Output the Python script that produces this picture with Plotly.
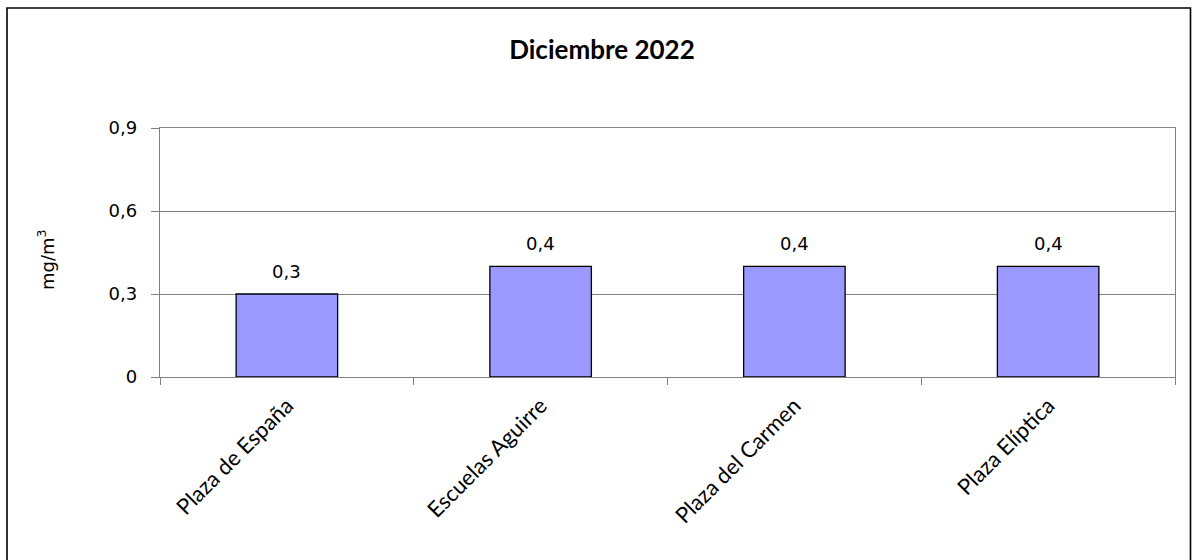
import plotly.graph_objects as go

categories = ["Plaza de España", "Escuelas Aguirre", "Plaza del Carmen", "Plaza Elíptica"]
values = [0.3, 0.4, 0.4, 0.4]
y_ticks = [0, 0.3, 0.6, 0.9]
y_tick_labels = ["0", "0,3", "0,6", "0,9"]

L, R, T, B = 160, 17, 128, 183
W, H = 1192, 560
pw, ph = W - L - R, H - T - B

fig = go.Figure()
fig.add_trace(go.Bar(
    x=categories, y=values, width=0.4,
    marker=dict(color="#9999FF", line=dict(color="#000000", width=1.3)),
    hoverinfo="skip",
))
for c, v in zip(categories, values):
    fig.add_annotation(x=c, y=v, text=f"{v:.1f}".replace(".", ","), showarrow=False,
                       yanchor="bottom", yshift=10,
                       font=dict(family="DejaVu Sans", size=18, color="#000000"))

# y-axis title placed as a rotated annotation
fig.add_annotation(text="mg/m<sup>3</sup>", xref="paper", yref="paper",
                   x=(46 - L) / pw, y=(H - B - 260) / ph, textangle=-90,
                   showarrow=False, xanchor="center", yanchor="middle",
                   font=dict(family="DejaVu Sans", size=18, color="#000000"))

fig.update_layout(
    width=W, height=H,
    margin=dict(l=L, r=R, t=T, b=B),
    paper_bgcolor="white", plot_bgcolor="white",
    showlegend=False,
    title=dict(text="<b>Diciembre 2022</b>", x=602 / W, xref="container", xanchor="center",
               y=1 - 50 / H, yanchor="middle",
               font=dict(family="Lato", size=26, color="#000000")),
    shapes=[dict(type="rect", xref="paper", yref="paper",
                 x0=(7 - L) / pw, x1=(1190.5 - L) / pw,
                 y0=-1.0, y1=(H - B - 8) / ph,
                 line=dict(color="#000000", width=1.6), fillcolor="rgba(0,0,0,0)", layer="below")],
)
fig.update_xaxes(
    type="category", tickson="boundaries", ticks="outside", ticklen=7,
    tickcolor="#808080", showline=True, linecolor="#808080", linewidth=1.3, mirror=True,
    tickangle=-45, tickfont=dict(family="Lato", size=22, color="#000000"),
    ticklabelstandoff=6, showgrid=False,
)
fig.update_yaxes(
    range=[0, 0.9], tickvals=y_ticks, ticktext=y_tick_labels,
    ticks="outside", ticklen=8, tickcolor="#808080", ticklabelstandoff=10,
    showline=True, linecolor="#808080", linewidth=1.3, mirror=True,
    showgrid=True, gridcolor="#808080", gridwidth=1.3, zeroline=False,
    tickfont=dict(family="DejaVu Sans", size=18, color="#000000"),
)

fig.write_html("out.html", config={"displayModeBar": False},
               post_script="document.body.style.margin='0';document.body.style.overflow='hidden';")
